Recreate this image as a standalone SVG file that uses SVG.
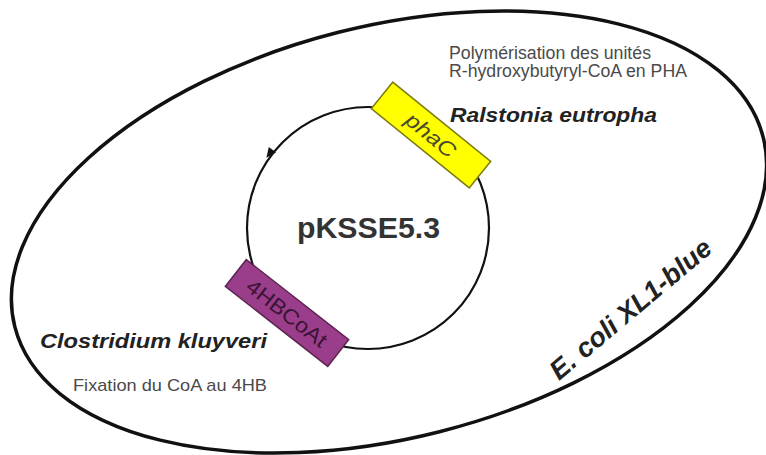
<svg xmlns="http://www.w3.org/2000/svg" width="766" height="455" viewBox="0 0 766 455">
  <style>
    text { font-family: "Liberation Sans", Arial, sans-serif; }
    .note { font-size: 17.5px; fill: #4a4a4a; }
    .species { font-size: 20px; font-weight: bold; font-style: italic; fill: #222; }
    .gene { font-size: 21px; text-anchor: middle; dominant-baseline: central; }
  </style>
  <rect width="766" height="455" fill="#ffffff"/>

  <g id="ecoli">
    <ellipse cx="389" cy="232" rx="386" ry="206" transform="rotate(-14.2 389 232)" fill="none" stroke="#111" stroke-width="3.5"/>
    <text class="species" transform="translate(559 381) rotate(-40)" textLength="202" lengthAdjust="spacingAndGlyphs" style="font-size:27px">E. coli XL1-blue</text>
  </g>

  <g id="plasmid">
    <circle cx="368" cy="228" r="121" fill="none" stroke="#111" stroke-width="2.2"/>
    <polygon points="6,0 -4,-4.5 -4,4.5" fill="#111" transform="translate(270 153) rotate(127)"/>
    <text x="297" y="238" font-size="30" font-weight="bold" fill="#333" textLength="143" lengthAdjust="spacingAndGlyphs">pKSSE5.3</text>
  </g>

  <g id="phaC">
    <g transform="translate(431 135) rotate(39)">
      <rect x="-63" y="-17" width="126" height="34" fill="#ffff00" stroke="#7c7c10" stroke-width="1.5"/>
      <text class="gene" x="0" y="0" fill="#4a4a30" font-style="italic" textLength="58" lengthAdjust="spacingAndGlyphs">phaC</text>
    </g>
  </g>

  <g id="hbcoat">
    <g transform="translate(287 313) rotate(38)">
      <rect x="-65" y="-17" width="130" height="34" fill="#9a3d8a" stroke="#5e2452" stroke-width="1.5"/>
      <text class="gene" x="0" y="0" fill="#3a1434" textLength="96" lengthAdjust="spacingAndGlyphs">4HBCoAt</text>
    </g>
  </g>

  <g id="labels">
    <text class="note" x="449" y="58.5" textLength="202" lengthAdjust="spacingAndGlyphs">Polymérisation des unités</text>
    <text class="note" x="449" y="77" textLength="238" lengthAdjust="spacingAndGlyphs">R-hydroxybutyryl-CoA en PHA</text>
    <text class="species" x="450" y="122" textLength="207" lengthAdjust="spacingAndGlyphs">Ralstonia eutropha</text>
    <text class="species" x="40" y="348" textLength="227" lengthAdjust="spacingAndGlyphs">Clostridium kluyveri</text>
    <text class="note" x="73" y="391" style="font-size:17px" textLength="194" lengthAdjust="spacingAndGlyphs">Fixation du CoA au 4HB</text>
  </g>

  <g id="connectors"></g>
</svg>
